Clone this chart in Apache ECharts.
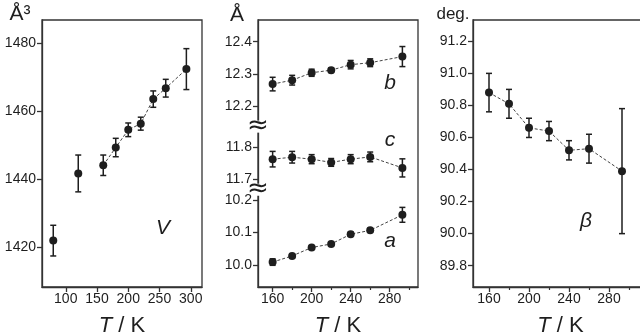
<!DOCTYPE html>
<html>
<head>
<meta charset="utf-8">
<script src="https://cdn.jsdelivr.net/npm/echarts@6/dist/echarts.min.js"></script>
<style>
  html, body { margin: 0; padding: 0; background: #fff; }
  #chart { width: 640px; height: 336px; }
</style>
</head>
<body>
<div id="chart"></div>
<script>
// panel 1 : volume
var vTemps = [80, 120, 160, 180, 200, 220, 240, 260, 293];
var vValues = [1422, 1441.7, 1444.1, 1449.3, 1454.5, 1456.3, 1463.5, 1466.7, 1472.3];
var vErrors = [4.5, 5.4, 3, 2.7, 2, 1.9, 2.4, 2.6, 6];
var vTicksY = [1420, 1440, 1460, 1480];
var vTicksX = [100, 150, 200, 250, 300];

// panel 2 : a, b, c (broken axis)
var abcTemps = [160, 180, 200, 220, 240, 260, 293];
var aValues = [10.009, 10.028, 10.054, 10.065, 10.095, 10.107, 10.155];
var aErrors = [0.01, 0.006, 0.005, 0.005, 0.006, 0.006, 0.023];
var bValues = [12.269, 12.281, 12.304, 12.312, 12.329, 12.335, 12.354];
var bErrors = [0.021, 0.015, 0.011, 0.007, 0.013, 0.012, 0.031];
var cValues = [11.762, 11.768, 11.762, 11.752, 11.762, 11.769, 11.735];
var cErrors = [0.024, 0.018, 0.014, 0.012, 0.014, 0.015, 0.028];
var abcTickLabels = ['10.0', '10.1', '10.2', '11.7', '11.8', '12.2', '12.3', '12.4'];

// panel 3 : beta
var betaTemps = [160, 180, 200, 220, 240, 260, 293];
var betaValues = [90.88, 90.81, 90.66, 90.64, 90.52, 90.53, 90.39];
var betaErrors = [0.12, 0.09, 0.06, 0.06, 0.06, 0.09, 0.39];
var betaTicksY = [89.8, 90.0, 90.2, 90.4, 90.6, 90.8, 91.0, 91.2];

var tTicksMajor = [160, 200, 240, 280];
var tTicksMinor = [180, 220, 260, 300];

var FONT = "'Liberation Sans', Arial, sans-serif";
var INK = '#1e1e1e';
var AXIS = '#333';

// broken-axis mapping: real value -> position on a continuous axis (0.1 A = 1 unit)
function toVirtual(v) {
  if (v < 11) return (v - 10) * 10;
  if (v < 12) return (v - 11.7) * 10 + 2.65;
  return (v - 12.2) * 10 + 4.9;
}
var abcTickPos = abcTickLabels.map(function (s) { return toVirtual(+s); });

function pts(xs, ys) {
  return xs.map(function (x, i) { return [x, ys[i]]; });
}
function errPts(xs, ys, es) {
  return xs.map(function (x, i) { return [x, ys[i], es[i]]; });
}
function virtPts(ys) {
  return abcTemps.map(function (x, i) { return [x, toVirtual(ys[i])]; });
}
function virtErr(ys, es) {
  return abcTemps.map(function (x, i) { return [x, toVirtual(ys[i]), es[i] * 10]; });
}

function renderErr(params, api) {
  var x = api.value(0), y = api.value(1), e = api.value(2);
  var top = api.coord([x, y + e]);
  var bot = api.coord([x, y - e]);
  var w = 3;
  var st = { stroke: INK, lineWidth: 1.5 };
  return {
    type: 'group',
    children: [
      { type: 'line', shape: { x1: top[0], y1: top[1], x2: bot[0], y2: bot[1] }, style: st },
      { type: 'line', shape: { x1: top[0] - w, y1: top[1], x2: top[0] + w, y2: top[1] }, style: st },
      { type: 'line', shape: { x1: bot[0] - w, y1: bot[1], x2: bot[0] + w, y2: bot[1] }, style: st }
    ]
  };
}

function xAxisMain(grid, min, max, ticks) {
  return {
    type: 'value', gridIndex: grid, min: min, max: max, position: 'bottom',
    name: '{i|T} / K', nameLocation: 'middle', nameGap: 28,
    nameTextStyle: {
      fontFamily: FONT, fontSize: 22, color: INK,
      rich: { i: { fontStyle: 'italic', fontFamily: FONT, fontSize: 22, color: INK } }
    },
    axisLine: { show: true, onZero: false, lineStyle: { color: AXIS, width: 1.3 } },
    axisTick: { show: true, inside: false, customValues: ticks, length: 5, lineStyle: { color: AXIS, width: 1.3 } },
    axisLabel: { customValues: ticks, margin: 5, fontFamily: FONT, fontSize: 14, color: INK },
    splitLine: { show: false }
  };
}
function xAxisMinor(grid, min, max) {
  return {
    type: 'value', gridIndex: grid, min: min, max: max, position: 'bottom',
    axisLine: { show: false, onZero: false },
    axisTick: { show: true, inside: false, customValues: tTicksMinor, length: 3, lineStyle: { color: AXIS, width: 1.2 } },
    axisLabel: { show: false },
    splitLine: { show: false }
  };
}
function yAxisMain(grid, min, max, ticks, fmt) {
  return {
    type: 'value', gridIndex: grid, min: min, max: max, position: 'left',
    axisLine: { show: true, onZero: false, lineStyle: { color: AXIS, width: 1.3 } },
    axisTick: { show: true, inside: false, customValues: ticks, length: 5, lineStyle: { color: AXIS, width: 1.3 } },
    axisLabel: { customValues: ticks, margin: 6, fontFamily: FONT, fontSize: 14, color: INK, formatter: fmt },
    splitLine: { show: false }
  };
}

var lineStyleDash = { color: '#444', width: 1, type: [3, 2] };

function lineSeries(xi, yi, data) {
  return {
    type: 'line', xAxisIndex: xi, yAxisIndex: yi, data: data,
    symbol: 'circle', symbolSize: 8, itemStyle: { color: INK, opacity: 1 },
    lineStyle: lineStyleDash, z: 3, animation: false
  };
}
function errSeries(xi, yi, data) {
  return {
    type: 'custom', xAxisIndex: xi, yAxisIndex: yi, data: data,
    renderItem: renderErr, z: 2, animation: false, silent: true
  };
}

var grids = [
  { left: 42, top: 20, width: 160, height: 267 },
  { left: 258, top: 20, width: 160, height: 267 },
  { left: 473, top: 20, width: 175, height: 267 }
].map(function (g) {
  return Object.assign({
    show: true, borderColor: AXIS, borderWidth: 1.3, backgroundColor: 'transparent',
    containLabel: false, outerBoundsMode: 'none'
  }, g);
});

var chart = echarts.init(document.getElementById('chart'), null, { renderer: 'canvas' });

var option = {
  animation: false,
  backgroundColor: '#fff',
  grid: grids,
  xAxis: [
    xAxisMain(0, 62, 318, vTicksX),
    xAxisMain(1, 145, 309, tTicksMajor),
    xAxisMinor(1, 145, 309),
    xAxisMain(2, 144, 319, tTicksMajor),
    xAxisMinor(2, 144, 319)
  ],
  yAxis: [
    yAxisMain(0, 1408.4, 1486.7, vTicksY, function (v) { return String(Math.round(v)); }),
    yAxisMain(1, -0.68, 7.57, abcTickPos, function (v) {
      var best = 0;
      abcTickPos.forEach(function (p, i) { if (Math.abs(p - v) < Math.abs(abcTickPos[best] - v)) best = i; });
      return abcTickLabels[best];
    }),
    yAxisMain(2, 89.667, 91.333, betaTicksY, function (v) { return v.toFixed(1); })
  ],
  series: [
    // V
    lineSeries(0, 0, pts(vTemps.slice(2), vValues.slice(2))),
    {
      type: 'scatter', xAxisIndex: 0, yAxisIndex: 0,
      data: pts(vTemps.slice(0, 2), vValues.slice(0, 2)),
      symbol: 'circle', symbolSize: 8, itemStyle: { color: INK, opacity: 1 }, z: 3
    },
    errSeries(0, 0, errPts(vTemps, vValues, vErrors)),
    // a, b, c
    lineSeries(1, 1, virtPts(aValues)),
    lineSeries(1, 1, virtPts(bValues)),
    lineSeries(1, 1, virtPts(cValues)),
    errSeries(1, 1, virtErr(aValues, aErrors)),
    errSeries(1, 1, virtErr(bValues, bErrors)),
    errSeries(1, 1, virtErr(cValues, cErrors)),
    // beta
    lineSeries(3, 2, pts(betaTemps, betaValues)),
    errSeries(3, 2, errPts(betaTemps, betaValues, betaErrors))
  ]
};
chart.setOption(option);

// annotations: units, series names, axis breaks
function txt(x, y, text, size, italic) {
  return {
    type: 'text', x: x, y: y, z: 10,
    style: {
      text: text, fontFamily: FONT, fontSize: size, fill: INK,
      fontStyle: italic ? 'italic' : 'normal', align: 'center', verticalAlign: 'middle'
    }
  };
}
var graphics = [
  txt(20, 14, 'Å³', 21, false),
  txt(237, 15, 'Å', 21, false),
  txt(453, 14, 'deg.', 17, false),
  txt(163, 228, 'V', 21, true),
  txt(390, 83, 'b', 21, true),
  txt(390, 140, 'c', 21, true),
  txt(390, 241, 'a', 21, true),
  txt(586, 221, 'β', 21, true)
];
[(2 + 2.65) / 2, (3.65 + 4.9) / 2].forEach(function (v) {
  var p = chart.convertToPixel({ xAxisIndex: 1, yAxisIndex: 1 }, [145, v]);
  graphics.push({
    type: 'rect', z: 11, shape: { x: p[0] - 3, y: p[1] - 6, width: 6, height: 12 },
    style: { fill: '#fff' }
  });
  graphics.push({
    type: 'text', x: p[0], y: p[1], z: 12,
    style: {
      text: '≈', fontFamily: "'DejaVu Sans', sans-serif", fontSize: 26, fill: INK,
      align: 'center', verticalAlign: 'middle'
    }
  });
});
chart.setOption({ graphic: graphics });
</script>
</body>
</html>
